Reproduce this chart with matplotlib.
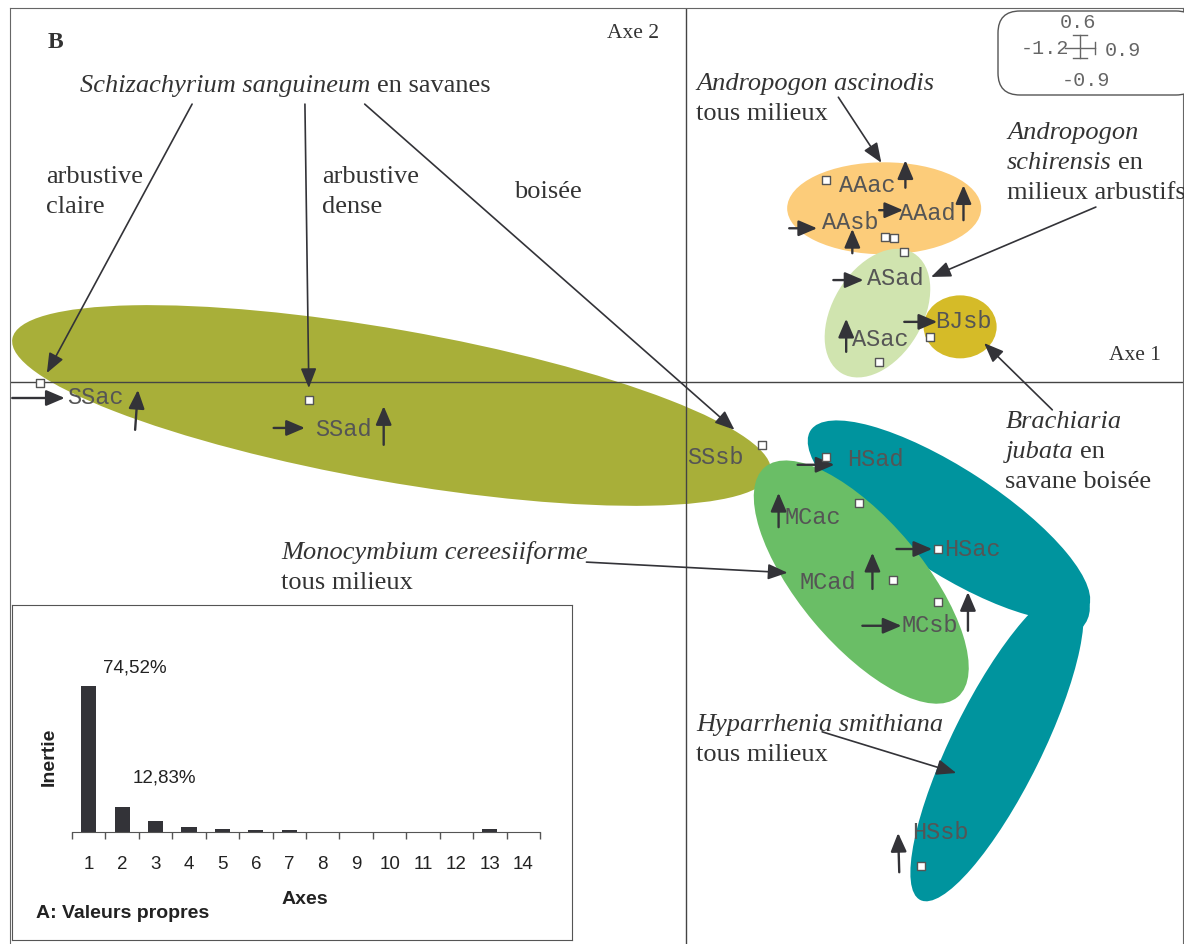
import matplotlib
matplotlib.use("Agg")
import matplotlib.pyplot as plt
import matplotlib.transforms as mtransforms
from matplotlib.patches import Ellipse, FancyBboxPatch
import numpy as np

# --- factorial map (Axe 1, Axe 2) -------------------------------------------
site_x = [-1.156, -0.675, 0.137, 0.250, 0.357, 0.373, 0.391, 0.345,
          0.437, 0.250, 0.310, 0.452, 0.370, 0.452, 0.421]
site_y = [-0.001, -0.028, -0.100, 0.324, 0.233, 0.231, 0.209, 0.033,
          0.073, -0.120, -0.193, -0.267, -0.317, -0.352, -0.775]

label_names = ["SSac", "SSad", "SSsb", "AAac", "AAad", "AAsb", "ASad", "ASac",
               "BJsb", "HSad", "HSac", "HSsb", "MCac", "MCad", "MCsb"]
label_x = [-1.108, -0.664, 0.003, 0.275, 0.382, 0.244, 0.325, 0.298,
           0.446, 0.289, 0.463, 0.405, 0.176, 0.203, 0.386]
label_y = [-0.025, -0.076, -0.121, 0.315, 0.271, 0.257, 0.167, 0.068,
           0.098, -0.123, -0.267, -0.722, -0.216, -0.320, -0.389]

# short arrows pointing along Axe 1
right_x0 = [-1.206, -0.738, 0.346, 0.185, 0.264, 0.391, 0.200, 0.377, 0.316]
right_x1 = [-1.112, -0.682, 0.389, 0.235, 0.318, 0.450, 0.266, 0.441, 0.386]
right_y = [-0.025, -0.073, 0.276, 0.247, 0.164, 0.097, -0.132, -0.267, -0.390]

# short arrows pointing along Axe 2
up_x0 = [-0.986, -0.541, 0.393, 0.497, 0.298, 0.287, 0.166, 0.334, 0.505, 0.382]
up_x1 = [-0.981, -0.541, 0.393, 0.497, 0.298, 0.287, 0.166, 0.334, 0.505, 0.380]
up_y0 = [-0.076, -0.100, 0.312, 0.260, 0.207, 0.049, -0.232, -0.331, -0.398, -0.785]
up_y1 = [-0.012, -0.038, 0.356, 0.316, 0.246, 0.102, -0.177, -0.273, -0.336, -0.722]

# group envelopes (Hyparrhenia is drawn as three overlapping lobes)
env_x = [-0.527, 0.355, 0.343, 0.491, 0.471, 0.557, 0.673, 0.314]
env_y = [-0.037, 0.279, 0.111, 0.089, -0.221, -0.581, -0.362, -0.320]
env_w = [770, 194, 140, 73, 330, 346, 56, 300]
env_h = [152, 92, 90, 63, 104, 90, 56, 124]
env_angle = [-10, 0, 59, 0, -33, 63.7, 0, -50]
env_color = ["#a8af39", "#fccc7a", "#d0e4af", "#d5bb28",
             "#00949e", "#00949e", "#00949e", "#6abe66"]

# callout arrows from the species notes
call_x0 = [-0.884, -0.682, -0.575, 0.273, 0.734, 0.656, -0.178, 0.244]
call_y0 = [0.446, 0.446, 0.446, 0.457, 0.281, -0.044, -0.288, -0.560]
call_x1 = [-1.144, -0.675, 0.087, 0.350, 0.439, 0.534, 0.182, 0.484]
call_y1 = [0.015, -0.009, -0.076, 0.352, 0.169, 0.063, -0.305, -0.626]

notes = [
    (-1.085, 0.465, [("Schizachyrium sanguineum", "italic"), ("en savanes", "normal")]),
    (-1.146, 0.320, [("arbustive", "normal")]),
    (-1.146, 0.271, [("claire", "normal")]),
    (-0.652, 0.320, [("arbustive", "normal")]),
    (-0.652, 0.271, [("dense", "normal")]),
    (-0.307, 0.296, [("boisée", "normal")]),
    (0.019, 0.469, [("Andropogon ascinodis", "italic")]),
    (0.019, 0.421, [("tous milieux", "normal")]),
    (0.575, 0.390, [("Andropogon", "italic")]),
    (0.575, 0.342, [("schirensis", "italic"), ("en", "normal")]),
    (0.575, 0.294, [("milieux arbustifs", "normal")]),
    (0.572, -0.073, [("Brachiaria", "italic")]),
    (0.572, -0.121, [("jubata", "italic"), ("en", "normal")]),
    (0.572, -0.169, [("savane boisée", "normal")]),
    (-0.725, -0.283, [("Monocymbium cereesiiforme", "italic")]),
    (-0.725, -0.331, [("tous milieux", "normal")]),
    (0.019, -0.559, [("Hyparrhenia smithiana", "italic")]),
    (0.019, -0.607, [("tous milieux", "normal")]),
]

# --- eigenvalue inset ------------------------------------------------------
axes_num = np.arange(1, 15)
inertia = [74.52, 12.83, 5.5, 2.6, 1.7, 0.9, 0.8, 0, 0, 0, 0, 0, 1.7, 0]

W, H, DPI = 1184, 944, 100
SERIF = "Liberation Serif"
MONO = "Liberation Mono"
SANS = "Liberation Sans"
INK = "#333338"

fig = plt.figure(figsize=(W / DPI, H / DPI), dpi=DPI)
pix = mtransforms.Affine2D().scale(1 / W, -1 / H).translate(0, 1) + fig.transFigure

ax = fig.add_axes([10 / W, 0, 1173 / W, 936 / H])
ax.set_xlim(-1.21, 0.89)
ax.set_ylim(-0.90, 0.60)
ax.set_xticks([])
ax.set_yticks([])
for side in ("left", "top", "right"):
    ax.spines[side].set_color("#666")
ax.spines["bottom"].set_visible(False)

for x, y, w, h, a, c in zip(env_x, env_y, env_w, env_h, env_angle, env_color):
    tr = fig.dpi_scale_trans + mtransforms.ScaledTranslation(x, y, ax.transData)
    ax.add_patch(Ellipse((0, 0), w / DPI, h / DPI, angle=a, transform=tr,
                         facecolor=c, edgecolor="none", zorder=1))

ax.axhline(0, color="#444", lw=1, zorder=2)
ax.axvline(0, color="#444", lw=1, zorder=2)

short = dict(arrowstyle="-|>,head_length=0.75,head_width=0.32", lw=1.7,
             color=INK, shrinkA=0, shrinkB=0, mutation_scale=15)
for x0, x1, y in zip(right_x0, right_x1, right_y):
    ax.annotate("", xy=(x1, y), xytext=(x0, y), arrowprops=short, zorder=4)
for x0, x1, y0, y1 in zip(up_x0, up_x1, up_y0, up_y1):
    ax.annotate("", xy=(x1, y1), xytext=(x0, y0), arrowprops=short, zorder=4)

longa = dict(arrowstyle="-|>,head_length=0.8,head_width=0.32", lw=1.2,
             color=INK, shrinkA=0, shrinkB=0, mutation_scale=15)
for x0, y0, x1, y1 in zip(call_x0, call_y0, call_x1, call_y1):
    ax.annotate("", xy=(x1, y1), xytext=(x0, y0), arrowprops=longa, zorder=4)

ax.scatter(site_x, site_y, marker="s", s=28, facecolor="white",
           edgecolor="#555", linewidth=1, zorder=5)

for name, x, y in zip(label_names, label_x, label_y):
    ax.text(x, y, name, family=MONO, fontsize=17, color="#555",
            ha="left", va="center", zorder=6)

renderer = fig.canvas.get_renderer()
note_size = 19
space = 0.25 * note_size * DPI / 72
for x, y, parts in notes:
    tr = ax.transData
    for s, style in parts:
        t = ax.text(x, y, s, transform=tr, family=SERIF, fontstyle=style,
                    fontsize=note_size, color="#333", ha="left", va="baseline", zorder=6)
        width = t.get_window_extent(renderer).width
        tr = mtransforms.offset_copy(tr, x=width + space, y=0, units="dots")

ax.text(-1.142, 0.536, "B", family=SERIF, fontweight="bold", fontsize=17,
        color="#333", va="baseline")
ax.text(-0.142, 0.552, "Axe 2", family=SERIF, fontsize=15.5, color="#333", va="baseline")
ax.text(0.758, 0.036, "Axe 1", family=SERIF, fontsize=15.5, color="#333", va="baseline")

# scale key in the top-right corner
key = FancyBboxPatch((998, 11), 200, 84, boxstyle="round,pad=0,rounding_size=22",
                     transform=pix, facecolor="white", edgecolor="#555", lw=1)
fig.patches.append(key)
kw = dict(transform=pix, family=MONO, fontsize=14.5, color="#666", va="center")
fig.text(1078, 22, "0.6", ha="center", **kw)
fig.text(1069, 48, "-1.2", ha="right", **kw)
fig.text(1105, 50, "0.9", ha="left", **kw)
fig.text(1086, 80, "-0.9", ha="center", **kw)
for xs, ys in [([1080, 1080], [35, 58]), ([1073, 1087], [35, 35]),
               ([1073, 1087], [58, 58]), ([1065, 1095], [48, 48]),
               ([1095, 1095], [42, 54])]:
    fig.add_artist(plt.Line2D(xs, ys, transform=pix, color="#666", lw=1))

# --- inset: eigenvalues ----------------------------------------------------
frame = fig.add_axes([12 / W, 4 / H, 560 / W, 335 / H])
frame.set_xticks([])
frame.set_yticks([])
for sp in frame.spines.values():
    sp.set_color("#555")

bx = fig.add_axes([72 / W, (H - 832) / H, 468 / W, 157 / H])
bx.patch.set_alpha(0)
bx.bar(axes_num, inertia, width=0.45, color=INK)
bx.set_xlim(0.5, 14.5)
bx.set_ylim(0, 80)
for side in ("left", "top", "right"):
    bx.spines[side].set_visible(False)
bx.spines["bottom"].set_color("#555")
bx.set_yticks([])
bx.set_xticks(axes_num)
bx.set_xticklabels([str(i) for i in axes_num], family=SANS, fontsize=13.5, color="#222")
bx.tick_params(axis="x", which="major", length=0, pad=17)
bx.set_xticks(np.arange(0.5, 15, 1), minor=True)
bx.tick_params(axis="x", which="minor", length=5, width=1, color="#555", direction="out")
bx.text(1.43, 83.5, "74,52%", family=SANS, fontsize=13.5, color="#222",
        va="center", clip_on=False)
bx.text(2.32, 27.6, "12,83%", family=SANS, fontsize=13.5, color="#222",
        va="center", clip_on=False)

fig.text(49, 757, "Inertie", transform=pix, family=SANS, fontweight="bold",
         fontsize=14, rotation=90, ha="center", va="center", color="#222")
fig.text(305, 900, "Axes", transform=pix, family=SANS, fontweight="bold",
         fontsize=14, ha="center", va="center", color="#222")
fig.text(36, 913, "A: Valeurs propres", transform=pix, family=SANS,
         fontweight="bold", fontsize=14, ha="left", va="center", color="#222")

fig.savefig("out.png", dpi=DPI)
